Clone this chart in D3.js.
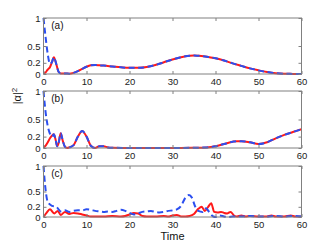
<!DOCTYPE html>
<html><head><meta charset="utf-8">
<script src="https://cdn.jsdelivr.net/npm/d3@7"></script>
<style>html,body{margin:0;padding:0;background:#fff;}svg{display:block;}</style>
</head><body>
<svg id="c" width="332" height="249"></svg>
<script>
// ---- data ----
const xTicks = [0, 10, 20, 30, 40, 50, 60];
const yTicks = [0, 0.2, 0.5, 1];
const panelLabels = ["(a)", "(b)", "(c)"];

const tA = [0,0.5,1,1.5,2,2.4,3,3.5,4,5,6,7,8,9,10,11,12,13,14,16,18,20,22,24,26,28,30,32,34,35,36,38,40,42,44,46,48,50,52,54,56,58,60];
const redA = [0,0.03,0.08,0.12,0.22,0.3,0.17,0.04,0.01,0.01,0.005,0.02,0.05,0.09,0.13,0.155,0.16,0.155,0.15,0.135,0.12,0.11,0.11,0.125,0.16,0.21,0.26,0.3,0.325,0.33,0.325,0.31,0.28,0.24,0.19,0.145,0.1,0.065,0.035,0.015,0.005,0.002,0];
const blueA = [1,0.65,0.35,0.18,0.22,0.3,0.17,0.04,0.01,0.01,0.005,0.02,0.05,0.09,0.13,0.155,0.16,0.155,0.15,0.135,0.12,0.11,0.11,0.125,0.16,0.21,0.26,0.3,0.325,0.33,0.325,0.31,0.28,0.24,0.19,0.145,0.1,0.065,0.035,0.015,0.005,0.002,0];

const tB = [0,0.5,1,1.5,2,2.4,2.8,3.2,3.5,4,4.5,5,5.5,6,7,8,9,10,11,12,13,14,15,16,20,25,30,35,38,40,42,44,45,46,48,50,52,54,56,58,60];
const redB = [0,0.04,0.1,0.17,0.22,0.24,0.15,0.03,0.08,0.26,0.12,0.02,0,0.01,0.05,0.2,0.3,0.2,0.04,0,0.03,0.03,0.01,0.005,0,0,0,0.005,0.01,0.03,0.07,0.11,0.12,0.12,0.1,0.07,0.1,0.17,0.23,0.28,0.33];
const blueB = [1,0.62,0.38,0.25,0.2,0.24,0.15,0.03,0.08,0.26,0.12,0.02,0,0.01,0.05,0.2,0.3,0.2,0.04,0,0.03,0.03,0.01,0.005,0,0,0,0.005,0.01,0.03,0.07,0.11,0.12,0.12,0.1,0.07,0.1,0.17,0.23,0.28,0.33];

const tCred = [0,0.7,1.5,2.5,3.3,4,5,6,7,8,9,10,11,12,14,16,18,19,20,21,22,23,24,26,28,29,30,31,32,33,34,35,36,36.8,37.5,38.3,39,39.7,40.5,41.3,42,42.7,43.5,44.3,45,46,47,48,50,52,53,54,56,57.5,58.5,60];
const redC = [0,0.08,0.15,0.07,0.12,0.04,0.1,0.06,0.08,0.07,0.05,0.03,0.01,0.01,0.01,0.02,0.01,0.02,0.05,0.08,0.07,0.02,0.01,0.01,0.02,0.01,0.03,0.04,0.01,0.01,0.02,0.06,0.16,0.2,0.12,0.2,0.27,0.1,0.09,0.1,0.08,0.07,0.1,0.03,0.01,0.03,0.01,0.02,0.01,0.01,0.03,0.01,0.01,0.03,0.01,0.01];
const tCblue = [0,0.4,0.8,1.2,2,3,3.5,4,5,6,7,8,9,10,11,12,13,14,15,16,17,18,19,20,21,22,23,24,25,26,27,28,29,30,31,32,33,33.8,34.5,35.3,36,37,37.8,38.5,39.5,40,41,42,43,44,46,48,50,52,54,56,58,60];
const blueC = [1,0.6,0.35,0.27,0.22,0.2,0.15,0.11,0.13,0.1,0.12,0.13,0.13,0.15,0.14,0.12,0.11,0.1,0.11,0.1,0.12,0.14,0.12,0.08,0.05,0.07,0.1,0.11,0.12,0.1,0.09,0.1,0.12,0.13,0.15,0.22,0.38,0.43,0.38,0.2,0.12,0.1,0.17,0.1,0.01,0,0.03,0.01,0,0.01,0.01,0.02,0.01,0.01,0.02,0.01,0.02,0.01];

const panels = [
  {label: panelLabels[0], top: 18, bottom: 74, red: [tA, redA], blue: [tA, blueA]},
  {label: panelLabels[1], top: 91, bottom: 148, red: [tB, redB], blue: [tB, blueB]},
  {label: panelLabels[2], top: 166, bottom: 217, red: [tCred, redC], blue: [tCblue, blueC]}
];

// ---- drawing ----
const svg = d3.select("#c");
const left = 43.5, right = 301.5;
const font = "'Liberation Sans', Arial, sans-serif";
const x = d3.scaleLinear().domain([0, 60]).range([left, right]);

panels.forEach(p => {
  const y = d3.scaleLinear().domain([0, 1]).range([p.bottom, p.top]);
  const g = svg.append("g");
  const zip = (ts, vs) => ts.map((t, i) => [t, vs[i]]);
  const line = d3.line().x(d => x(d[0])).y(d => y(d[1])).curve(d3.curveMonotoneX);

  g.append("path").attr("d", line(zip(p.red[0], p.red[1])))
    .attr("fill", "none").attr("stroke", "#ff1a1a").attr("stroke-width", 2);
  g.append("path").attr("d", line(zip(p.blue[0], p.blue[1])))
    .attr("fill", "none").attr("stroke", "#2b4ff0").attr("stroke-width", 2)
    .attr("stroke-dasharray", "6,3.5");

  const styleAxis = sel => {
    sel.select(".domain").remove();
    sel.selectAll("line").attr("stroke", "#808080");
    sel.selectAll("text").attr("fill", "#222").style("font-family", font).style("font-size", "9.5px");
  };
  g.append("g").attr("transform", `translate(0,${p.bottom})`)
    .call(d3.axisBottom(x).tickValues(xTicks).tickSize(-3).tickPadding(4).tickFormat(d3.format("d")))
    .call(styleAxis);
  g.append("g").attr("transform", `translate(0,${p.top})`)
    .call(d3.axisTop(x).tickValues(xTicks).tickSize(-3).tickFormat(""))
    .call(styleAxis);
  g.append("g").attr("transform", `translate(${left},0)`)
    .call(d3.axisLeft(y).tickValues(yTicks).tickSize(-3).tickPadding(3).tickFormat(d => d3.format("")(d)))
    .call(styleAxis);
  g.append("g").attr("transform", `translate(${right},0)`)
    .call(d3.axisRight(y).tickValues(yTicks).tickSize(-3).tickFormat(""))
    .call(styleAxis);

  g.append("rect").attr("x", left).attr("y", p.top)
    .attr("width", right - left).attr("height", p.bottom - p.top)
    .attr("fill", "none").attr("stroke", "#808080").attr("stroke-width", 1);

  g.append("text").attr("x", x(1.8)).attr("y", p.top + 11)
    .style("font-family", font).style("font-size", "10px").attr("fill", "#111")
    .text(p.label);
});

svg.append("text").attr("x", (left + right) / 2).attr("y", 240)
  .attr("text-anchor", "middle").style("font-family", font).style("font-size", "11px").attr("fill", "#111")
  .text("Time");

const yl = svg.append("text").attr("transform", "translate(21,96) rotate(-90)")
  .attr("text-anchor", "middle").style("font-family", font).style("font-size", "11px").attr("fill", "#111");
yl.append("tspan").text("|α|");
yl.append("tspan").attr("dy", "-0.45em").style("font-size", "8px").text("2");
</script>
</body></html>
